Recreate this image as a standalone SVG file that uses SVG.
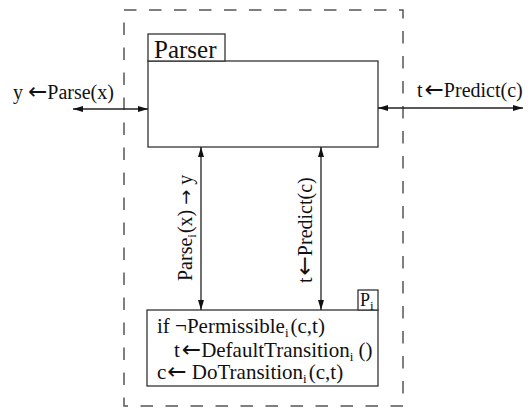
<svg xmlns="http://www.w3.org/2000/svg" width="532" height="411" viewBox="0 0 532 411">
  <defs>
    <marker id="head" viewBox="0 0 10 6" refX="10" refY="3" markerWidth="10" markerHeight="6" markerUnits="userSpaceOnUse" orient="auto-start-reverse">
      <path d="M0,0 L10,3 L0,6 Z" fill="#111"/>
    </marker>
  </defs>
  <style>
    .box { fill: #fff; stroke: #333; stroke-width: 1.3; }
    .frame { fill: none; stroke: #555; stroke-width: 1.5; stroke-dasharray: 12.5 12.5; }
    .link { stroke: #222; stroke-width: 1.3; fill: none; marker-start: url(#head); marker-end: url(#head); }
    text { fill: #111; }
    .lbl { font-size: 20px; }
    .code { font-size: 21px; }
    .sub { font-size: 13px; }
    .arw { font-size: 23px; }
  </style>

  <!-- enclosing dashed boundary -->
  <rect class="frame" x="124" y="10" width="279" height="396"/>

  <!-- Parser component -->
  <g id="parser">
    <rect class="box" x="148" y="61" width="230" height="86"/>
    <rect class="box" x="148" y="34" width="77" height="27"/>
    <text x="154" y="58" font-size="25" font-family="Liberation Serif">Parser</text>
  </g>

  <!-- Policy component P_i -->
  <g id="policy">
    <rect class="box" x="147" y="310" width="231" height="76"/>
    <rect class="box" x="358" y="290" width="20" height="20"/>
    <text x="360" y="306" font-size="18" font-family="Liberation Serif">P<tspan class="sub" dy="4">i</tspan></text>
    <text class="code" x="157" y="333" font-family="Liberation Serif">if ¬Permissible<tspan class="sub" dy="4">i</tspan><tspan dx="2" dy="-4">(c,t)</tspan></text>
    <text class="code" x="174" y="357" font-family="Liberation Serif">t<tspan class="arw" dx="2" font-family="DejaVu Sans">←</tspan>DefaultTransition<tspan class="sub" dy="4">i</tspan><tspan dy="-4"> ()</tspan></text>
    <text class="code" x="157" y="379" font-family="Liberation Serif">c<tspan class="arw" dx="1" font-family="DejaVu Sans">←</tspan> DoTransition<tspan class="sub" dy="4">i</tspan><tspan dx="2" dy="-4">(c,t)</tspan></text>
  </g>

  <!-- connectors -->
  <g id="connectors">
    <line class="link" x1="73" y1="109" x2="148" y2="109"/>
    <line class="link" x1="378" y1="108" x2="523" y2="108"/>
    <line class="link" x1="201" y1="147" x2="201" y2="310"/>
    <line class="link" x1="321" y1="147" x2="321" y2="310"/>
  </g>

  <!-- connector labels -->
  <g id="labels">
    <text class="lbl" x="13" y="99" font-family="Liberation Serif">y <tspan class="arw" font-family="DejaVu Sans">←</tspan>Parse(x)</text>
    <text class="lbl" x="417" y="97" font-family="Liberation Serif">t<tspan class="arw" dx="2" font-family="DejaVu Sans">←</tspan>Predict(c)</text>
    <text class="lbl" transform="translate(192,281) rotate(-90)" font-family="Liberation Serif">Parse<tspan class="sub" dy="4">i</tspan><tspan dx="1" dy="-4">(x) </tspan><tspan font-family="DejaVu Sans" font-size="18">→</tspan> y</text>
    <text class="lbl" transform="translate(312,283) rotate(-90)" font-family="Liberation Serif">t<tspan class="arw" dx="2" font-family="DejaVu Sans">←</tspan>Predict(c)</text>
  </g>
</svg>
